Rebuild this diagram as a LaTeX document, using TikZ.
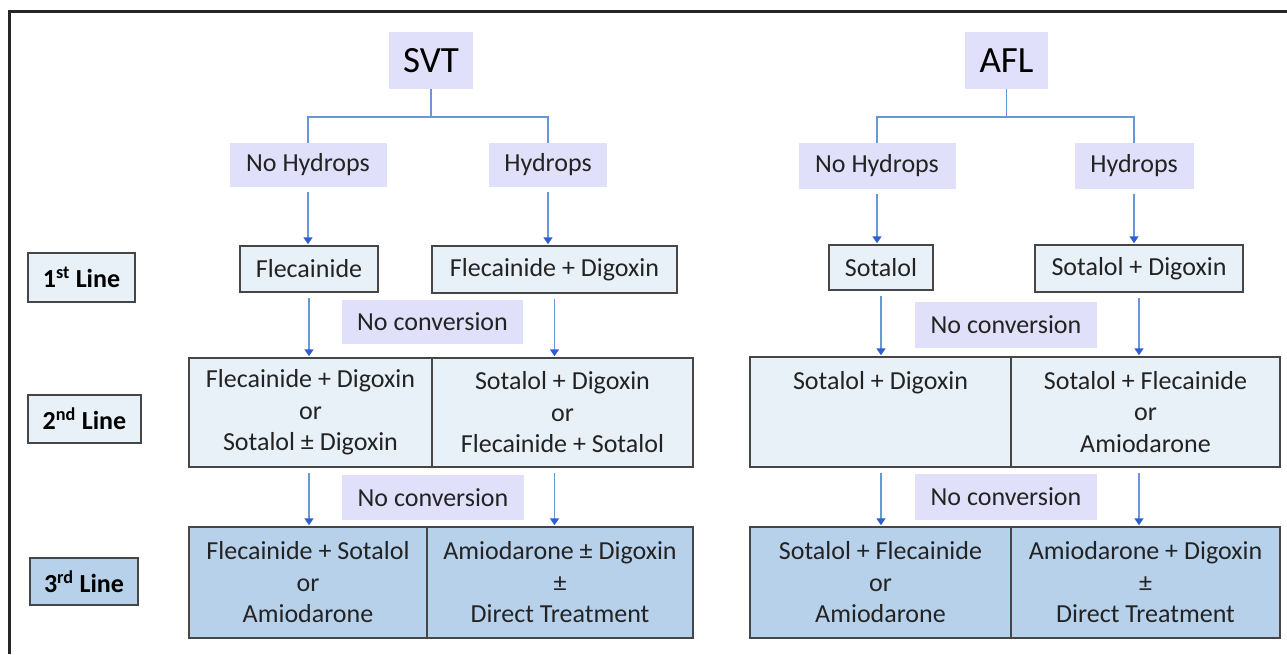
\documentclass[tikz,border=0pt]{standalone}
\usepackage{fontspec}
\setmainfont{Carlito}
\usetikzlibrary{arrows.meta, positioning}
\definecolor{lavender}{RGB}{225, 224, 250}
\definecolor{paleblue}{RGB}{232, 240, 248}
\definecolor{midblue}{RGB}{183, 209, 235}
\definecolor{linkblue}{RGB}{105, 150, 215}
\definecolor{tipblue}{RGB}{45, 95, 205}
\definecolor{edgegray}{RGB}{70, 70, 70}
\definecolor{inkgray}{RGB}{35, 35, 35}

\begin{document}
\begin{tikzpicture}[x=1pt, y=-1pt,
        tag/.style={fill=lavender, inner sep=0pt, text=inkgray, font=\fontsize{26}{31.5}\selectfont},
        head/.style={tag, text=black, font=\fontsize{37}{40}\selectfont},
        drug/.style={draw=edgegray, line width=1.5pt, fill=paleblue, inner sep=0pt, align=center, text=inkgray, font=\fontsize{26}{31.5}\selectfont},
        last/.style={drug, fill=midblue},
        level/.style={drug, text=black, font=\fontsize{26}{28}\selectfont\bfseries},
        link/.style={draw=linkblue, line width=1.5pt},
        flow/.style={link, -{Triangle[width=9pt, length=7pt, color=tipblue]}, shorten <=5pt, shorten >=1pt}
    ]
        \useasboundingbox (0,0) rectangle (1287,654);
        \draw[line width=3pt, black!85] (9.5,654) -- (9.5,11.5) -- (1287,11.5);

        % line labels
        \node[level, minimum width=107pt, minimum height=49pt] (l1) at (81.5,277.5) {1\textsuperscript{st} Line};
        \node[level, minimum width=113pt, minimum height=48pt] (l2) at (84.5,419) {2\textsuperscript{nd} Line};
        \node[level, fill=midblue, minimum width=108pt, minimum height=47pt] (l3) at (84,581.5) {3\textsuperscript{rd} Line};

        % SVT
        \node[head, minimum width=84pt, minimum height=57pt] (svt) at (431,60.5) {SVT};
        \node[tag, minimum width=157pt, minimum height=44pt] (nh1) at (308,165) {No Hydrops};
        \node[tag, minimum width=118pt, minimum height=44pt] (hy1) at (548,165) {Hydrops};
        \node[drug, minimum width=138pt, minimum height=46pt] (f1) at (309,269) {Flecainide};
        \node[drug, minimum width=245pt, minimum height=47pt] (fd1) at (554.5,269.5) {Flecainide + Digoxin};
        \node[tag, minimum width=181pt, minimum height=44pt] (nc1) at (432.5,322) {No conversion};
        \node[drug, minimum width=243pt, minimum height=109pt] (s2a) at (310.5,412.5) {Flecainide + Digoxin\\or\\Sotalol ± Digoxin};
        \node[drug, minimum width=261pt, minimum height=109pt] (s2b) at (562.5,412.5) {Sotalol + Digoxin\\or\\Flecainide + Sotalol};
        \node[tag, minimum width=182pt, minimum height=45pt] (nc3) at (433,497.5) {No conversion};
        \node[last, minimum width=238pt, minimum height=111pt] (s3a) at (308,582.5) {Flecainide + Sotalol\\or\\Amiodarone};
        \node[last, minimum width=266pt, minimum height=111pt] (s3b) at (560,582.5) {Amiodarone ± Digoxin\\±\\Direct Treatment};

        \draw[link] (svt.south) -- ++(0,28) -| (nh1.north);
        \draw[link] (svt.south) ++(0,28) -| (hy1.north);
        \draw[flow] (nh1.south) -- (nh1.south |- f1.north);
        \draw[flow] (hy1.south) -- (hy1.south |- fd1.north);
        \draw[flow] (f1.south) -- (f1.south |- s2a.north);
        \draw[flow] (fd1.south) -- (fd1.south |- s2b.north);
        \draw[flow] (f1.south |- s2a.south) -- (f1.south |- s3a.north);
        \draw[flow] (fd1.south |- s2b.south) -- (fd1.south |- s3b.north);

        % AFL
        \node[head, minimum width=83pt, minimum height=57pt] (afl) at (1006.5,60.5) {AFL};
        \node[tag, minimum width=157pt, minimum height=46pt] (nh2) at (877,166) {No Hydrops};
        \node[tag, minimum width=119pt, minimum height=46pt] (hy2) at (1134,166) {Hydrops};
        \node[drug, minimum width=104pt, minimum height=45pt] (so2) at (881,267.5) {Sotalol};
        \node[drug, minimum width=208pt, minimum height=47pt] (sd2) at (1139,268.5) {Sotalol + Digoxin};
        \node[tag, minimum width=182pt, minimum height=46pt] (nc2) at (1006,325) {No conversion};
        \node[drug, minimum width=261pt, minimum height=110pt] (a2a) at (880.5,412) {Sotalol + Digoxin\\\mbox{}\\\vphantom{A}};
        \node[drug, minimum width=269pt, minimum height=110pt] (a2b) at (1145.5,412) {Sotalol + Flecainide\\or\\Amiodarone};
        \node[tag, minimum width=182pt, minimum height=46pt] (nc4) at (1006,497) {No conversion};
        \node[last, minimum width=261pt, minimum height=111pt] (a3a) at (880.5,582.5) {Sotalol + Flecainide\\or\\Amiodarone};
        \node[last, minimum width=269pt, minimum height=111pt] (a3b) at (1145.5,582.5) {Amiodarone + Digoxin\\±\\Direct Treatment};

        \draw[link] (afl.south) -- ++(0,28) -| (nh2.north);
        \draw[link] (afl.south) ++(0,28) -| (hy2.north);
        \draw[flow] (nh2.south) -- (nh2.south |- so2.north);
        \draw[flow] (hy2.south) -- (hy2.south |- sd2.north);
        \draw[flow] (so2.south) -- (so2.south |- a2a.north);
        \draw[flow] (sd2.south) -- (sd2.south |- a2b.north);
        \draw[flow] (so2.south |- a2a.south) -- (so2.south |- a3a.north);
        \draw[flow] (sd2.south |- a2b.south) -- (sd2.south |- a3b.north);
    \end{tikzpicture}
\end{document}
